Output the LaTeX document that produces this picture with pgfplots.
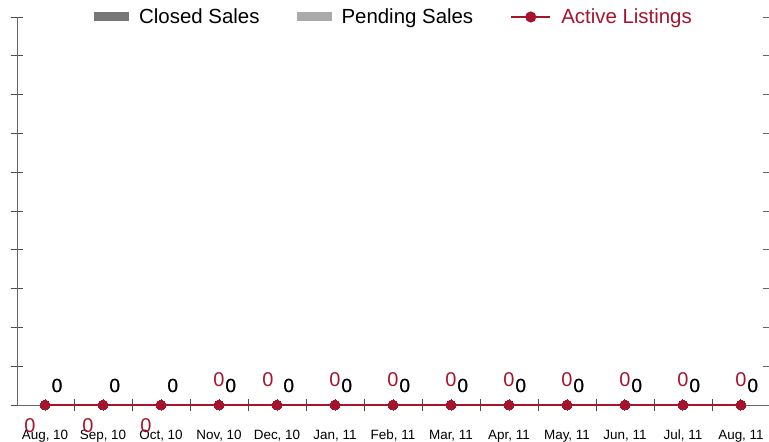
\documentclass[border=0pt]{standalone}
\usepackage{fontspec}
\setmainfont{Liberation Sans}
\usepackage{pgfplots}
\pgfplotsset{compat=1.18}
\definecolor{closedc}{HTML}{777777}
\definecolor{pendc}{HTML}{AAAAAA}
\definecolor{actc}{HTML}{A5142D}
\begin{document}
\begin{tikzpicture}
\begin{axis}[name=ax, scale only axis, width=752bp, height=388bp,
  /pgf/number format/assume math mode=true,
  xmin=-0.483, xmax=12.483, ymin=0, ymax=10,
  axis x line*=bottom, axis y line*=left,
  axis line style={black!60, line width=1pt},
  xtick={0,...,12},
  xticklabels={{Aug, 10},{Sep, 10},{Oct, 10},{Nov, 10},{Dec, 10},{Jan, 11},{Feb, 11},{Mar, 11},{Apr, 11},{May, 11},{Jun, 11},{Jul, 11},{Aug, 11}},
  major x tick style={draw=none},
  minor xtick={0.5,1.5,...,11.5},
  minor tick length=12bp,
  ytick={0,...,10}, yticklabels={},
  major tick length=13bp,
  tick align=center,
  tick style={black!70, line width=0.8pt},
  xticklabel style={font=\fontsize{13.5}{15}\selectfont, anchor=base, inner sep=0pt, yshift=-28bp},
  clip=false,
  legend style={at={(0.5,1)}, anchor=center, draw=none, fill=none, legend columns=3,
    font=\fontsize{20.5}{24}\selectfont, inner sep=0pt, nodes={inner sep=0pt},
    /tikz/every odd column/.append style={column sep=10bp},
    /tikz/every even column/.append style={column sep=37bp}},
  legend cell align=left,
]
\addplot[ybar, bar width=10bp, bar shift=0pt, fill=closedc, draw=none,
  legend image code/.code={\fill[closedc] (0bp,-4.5bp) rectangle (35bp,4.5bp);},
  nodes near coords,
  every node near coord/.style={anchor=base, inner sep=0pt, xshift=12bp, yshift=13bp, font=\fontsize{19}{20}\selectfont, text=black}]
  coordinates {(0,0)(1,0)(2,0)(3,0)(4,0)(5,0)(6,0)(7,0)(8,0)(9,0)(10,0)(11,0)(12,0)};
\addlegendentry{Closed Sales}
\addplot[ybar, bar width=10bp, bar shift=0pt, fill=pendc, draw=none,
  legend image code/.code={\fill[pendc] (0bp,-4.5bp) rectangle (35bp,4.5bp);},
  nodes near coords,
  every node near coord/.style={anchor=base, inner sep=0pt, xshift=12bp, yshift=13bp, font=\fontsize{19}{20}\selectfont, text=black}]
  coordinates {(0,0)(1,0)(2,0)(3,0)(4,0)(5,0)(6,0)(7,0)(8,0)(9,0)(10,0)(11,0)(12,0)};
\addlegendentry{Pending Sales}
\addplot[actc, line width=2bp, mark=*, mark size=5bp, mark options={fill=actc, draw=actc, line width=0pt},
  legend image code/.code={\draw[actc, line width=2bp] (0bp,0bp) -- (39bp,0bp); \fill[actc] (19.5bp,0bp) circle (4.5bp);}]
  coordinates {(0,0)(1,0)(2,0)(3,0)(4,0)(5,0)(6,0)(7,0)(8,0)(9,0)(10,0)(11,0)(12,0)};
\addlegendentry{\textcolor{actc}{Active Listings}}
\addplot[draw=none, mark=none, forget plot, nodes near coords,
  every node near coord/.style={anchor=base, inner sep=0pt, xshift=-15bp, yshift=-27bp, font=\fontsize{20}{20}\selectfont, text=actc}]
  coordinates {(0,0)(1,0)(2,0)};
\addplot[draw=none, mark=none, forget plot, nodes near coords,
  every node near coord/.style={anchor=base, inner sep=0pt, xshift=-9bp, yshift=19bp, font=\fontsize{20}{20}\selectfont, text=actc}]
  coordinates {(4,0)};
\addplot[draw=none, mark=none, forget plot, nodes near coords,
  every node near coord/.style={anchor=base, inner sep=0pt, xshift=0bp, yshift=19bp, font=\fontsize{20}{20}\selectfont, text=actc}]
  coordinates {(3,0)(5,0)(6,0)(7,0)(8,0)(9,0)(10,0)(11,0)(12,0)};
\end{axis}
\begin{axis}[scale only axis, width=752bp, height=388bp,
  xmin=-0.483, xmax=12.483, ymin=0, ymax=10,
  axis x line=none, axis y line*=right,
  y axis line style={draw=none},
  xtick=\empty, ytick={0,...,10}, yticklabels={},
  tick align=inside, major tick length=6bp,
  tick style={black!60, line width=0.8pt}]
\addplot[draw=none, mark=none] coordinates {(0,0)};
\end{axis}
\pgfresetboundingbox
\path (ax.south west) ++(-17bp,-37bp) rectangle ([yshift=17bp]ax.north east);
\end{tikzpicture}
\end{document}
